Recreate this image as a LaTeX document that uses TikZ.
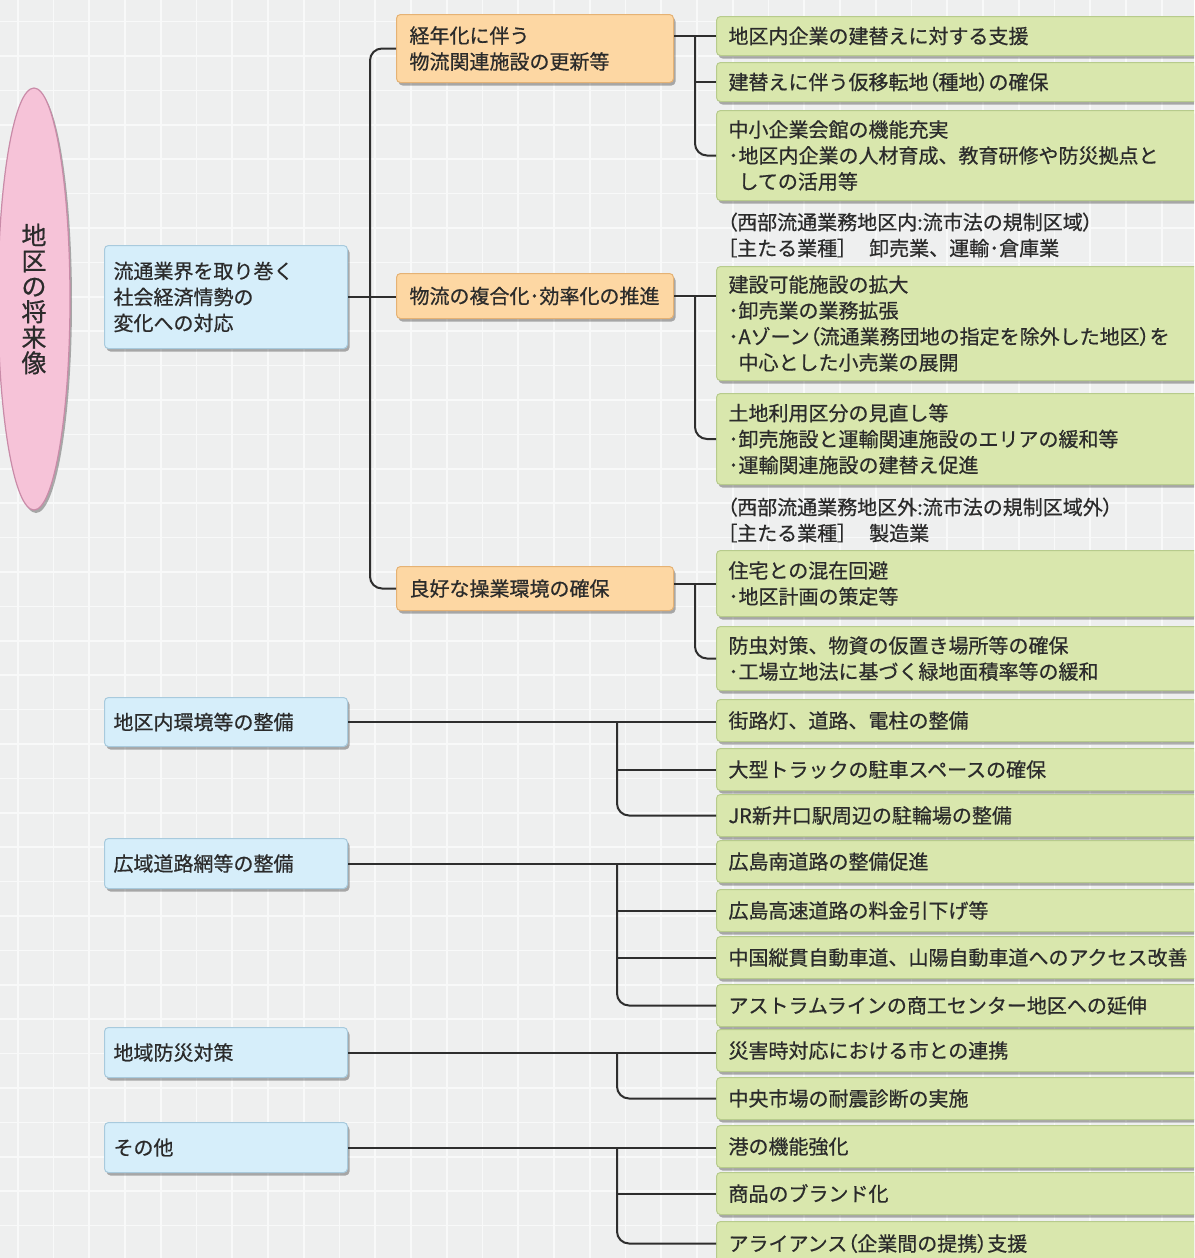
\documentclass[tikz,border=0pt]{standalone}
\usepackage{fontspec}
\setmainfont{Noto Sans CJK JP}[FakeBold=0.6]
\newfontfamily\pfont{Noto Sans CJK JP}[FakeBold=0.6,RawFeature=+palt]
\newcommand{\LP}{{\pfont （}}
\newcommand{\RP}{{\pfont ）}}
\newcommand{\LB}{{\pfont ［}}
\newcommand{\RB}{{\pfont ］}}
\usetikzlibrary{shadows,shapes.geometric}
\definecolor{bgc}{HTML}{EEEFEF}
\definecolor{gridc}{HTML}{F8F9F9}
\definecolor{txt}{HTML}{2B2B2B}
\definecolor{linec}{HTML}{2E2E2E}
\definecolor{gfill}{HTML}{D9E7AD}
\definecolor{gdraw}{HTML}{B7CB8C}
\definecolor{bfill}{HTML}{D6EEFA}
\definecolor{bdraw}{HTML}{A8CADD}
\definecolor{ofill}{HTML}{FDD7A3}
\definecolor{odraw}{HTML}{E5B274}
\definecolor{pfill}{HTML}{F6C3D8}
\definecolor{pdraw}{HTML}{C98BA8}
\tikzset{
  box/.style={draw, rounded corners=4pt, line width=1pt, anchor=north west, align=left,
    text=txt, font=\fontsize{20}{26}\selectfont, inner ysep=3pt,
    drop shadow={shadow xshift=2pt, shadow yshift=-3pt, opacity=0.3, fill=black}},
  gbox/.style={box, fill=gfill, draw=gdraw, text width=480pt, inner xsep=12pt},
  bbox/.style={box, fill=bfill, draw=bdraw, text width=225pt, inner xsep=9pt},
  obox/.style={box, fill=ofill, draw=odraw, text width=251pt, inner xsep=13pt},
  anno/.style={anchor=west, inner sep=0pt, align=left, text=txt, font=\fontsize{20}{26}\selectfont},
  rootnode/.style={ellipse, draw=pdraw, line width=1.2pt, fill=pfill, inner sep=0pt,
    minimum width=72pt, minimum height=422pt, align=center, text=txt,
    font=\fontsize{25}{25.5}\selectfont,
    drop shadow={shadow xshift=2pt, shadow yshift=-3pt, opacity=0.3, fill=black}},
  conn/.style={draw=linec, line width=2pt},
  rc/.style={conn, rounded corners=12pt},
}
\begin{document}
\begin{tikzpicture}[x=1pt,y=-1pt]
\useasboundingbox (0,0) rectangle (1194,1258);
\fill[bgc] (0,0) rectangle (1194,1258);
\foreach \i in {0,...,33} \draw[gridc, line width=1.6pt] (17.75+35.75*\i,0) -- ++(0,1258);
\foreach \j in {0,...,36} \draw[gridc, line width=1.6pt] (0,21.6+34.4*\j) -- ++(1194,0);
\begin{scope}
\clip (0,0) rectangle (1194,1258);
% root
\node[rootnode] (root) at (34,299) {地\\区\\の\\将\\来\\像};
% blue
\node[bbox, minimum height=103pt] (b1) at (104,245) {流通業界を取り巻く\\社会経済情勢の\\変化への対応};
\node[bbox, minimum height=49pt] (b2) at (104,697) {地区内環境等の整備};
\node[bbox, minimum height=50pt] (b3) at (104,838) {広域道路網等の整備};
\node[bbox, minimum height=50pt] (b4) at (104,1027) {地域防災対策};
\node[bbox, minimum height=50pt] (b5) at (104,1122) {その他};
% orange
\node[obox, minimum height=68pt] (o1) at (396,14) {経年化に伴う\\物流関連施設の更新等};
\node[obox, minimum height=45pt] (o2) at (396,273) {物流の複合化･効率化の推進};
\node[obox, minimum height=44pt] (o3) at (396,566) {良好な操業環境の確保};
% green
\node[gbox, minimum height=39pt] (g1) at (716,16) {地区内企業の建替えに対する支援};
\node[gbox, minimum height=39pt] (g2) at (716,62) {建替えに伴う仮移転地\LP 種地\RP の確保};
\node[gbox, minimum height=90pt] (g3) at (716,110) {中小企業会館の機能充実\\･地区内企業の人材育成、教育研修や防災拠点と\\\hspace*{0.5em}しての活用等};
\node[anno] (a1) at (727,235) {\LP 西部流通業務地区内:流市法の規制区域\RP\\\LB 主たる業種\RB\hspace{1.1em}卸売業、運輸･倉庫業};
\node[gbox, minimum height=114pt] (g4) at (716,266) {建設可能施設の拡大\\･卸売業の業務拡張\\･Aゾーン\LP 流通業務団地の指定を除外した地区\RP を\\\hspace*{0.5em}中心とした小売業の展開};
\node[gbox, minimum height=91pt] (g5) at (716,393) {土地利用区分の見直し等\\･卸売施設と運輸関連施設のエリアの緩和等\\･運輸関連施設の建替え促進};
\node[anno] (a2) at (727,520) {\LP 西部流通業務地区外:流市法の規制区域外\RP\\\LB 主たる業種\RB\hspace{1.1em}製造業};
\node[gbox, minimum height=66pt] (g6) at (716,550) {住宅との混在回避\\･地区計画の策定等};
\node[gbox, minimum height=64pt] (g7) at (716,626) {防虫対策、物資の仮置き場所等の確保\\･工場立地法に基づく緑地面積率等の緩和};
\node[gbox, minimum height=42pt] (g8) at (716,699) {街路灯、道路、電柱の整備};
\node[gbox, minimum height=42pt] (g9) at (716,748) {大型トラックの駐車スペースの確保};
\node[gbox, minimum height=42pt] (g10) at (716,794) {JR新井口駅周辺の駐輪場の整備};
\node[gbox, minimum height=42pt] (g11) at (716,840) {広島南道路の整備促進};
\node[gbox, minimum height=42pt] (g12) at (716,889) {広島高速道路の料金引下げ等};
\node[gbox, minimum height=42pt] (g13) at (716,936) {中国縦貫自動車道、山陽自動車道へのアクセス改善};
\node[gbox, minimum height=42pt] (g14) at (716,984) {アストラムラインの商工センター地区への延伸};
\node[gbox, minimum height=42pt] (g15) at (716,1029) {災害時対応における市との連携};
\node[gbox, minimum height=42pt] (g16) at (716,1077) {中央市場の耐震診断の実施};
\node[gbox, minimum height=42pt] (g17) at (716,1125) {港の機能強化};
\node[gbox, minimum height=42pt] (g18) at (716,1172) {商品のブランド化};
\node[gbox, minimum height=44pt] (g19) at (716,1221) {アライアンス\LP 企業間の提携\RP 支援};
\end{scope}
% connectors
\coordinate (v1) at (370,0);
\coordinate (v2) at (695,0);
\coordinate (v3) at (617,0);
\draw[rc] (o1.west) -- (o1.west -| v1) |- (o3.west);
\draw[conn] (b1.east) -- (b1.east -| o2.west);
\draw[conn] (o1.east |- g1.west) -- (g1.west);
\draw[rc] (g1.west -| v2) |- (g3.west);
\draw[conn] (g2.west -| v2) -- (g2.west);
\draw[conn] (o2.east) -- (o2.east -| g4.west);
\draw[rc] (o2.east -| v2) |- (g5.west);
\draw[conn] (g6.west -| o3.east) -- (g6.west);
\draw[rc] (g6.west -| v2) |- (g7.west);
\draw[conn] (b2.east) -- (b2.east -| g8.west);
\draw[rc] (b2.east -| v3) |- (g10.west);
\draw[conn] (g9.west -| v3) -- (g9.west);
\draw[conn] (b3.east) -- (b3.east -| g11.west);
\draw[rc] (b3.east -| v3) |- (g14.west);
\draw[conn] (g12.west -| v3) -- (g12.west);
\draw[conn] (g13.west -| v3) -- (g13.west);
\draw[conn] (b4.east) -- (b4.east -| g15.west);
\draw[rc] (b4.east -| v3) |- (g16.west);
\draw[conn] (b5.east) -- (b5.east -| g17.west);
\draw[rc] (b5.east -| v3) |- (g19.west);
\draw[conn] (g18.west -| v3) -- (g18.west);
\end{tikzpicture}
\end{document}
